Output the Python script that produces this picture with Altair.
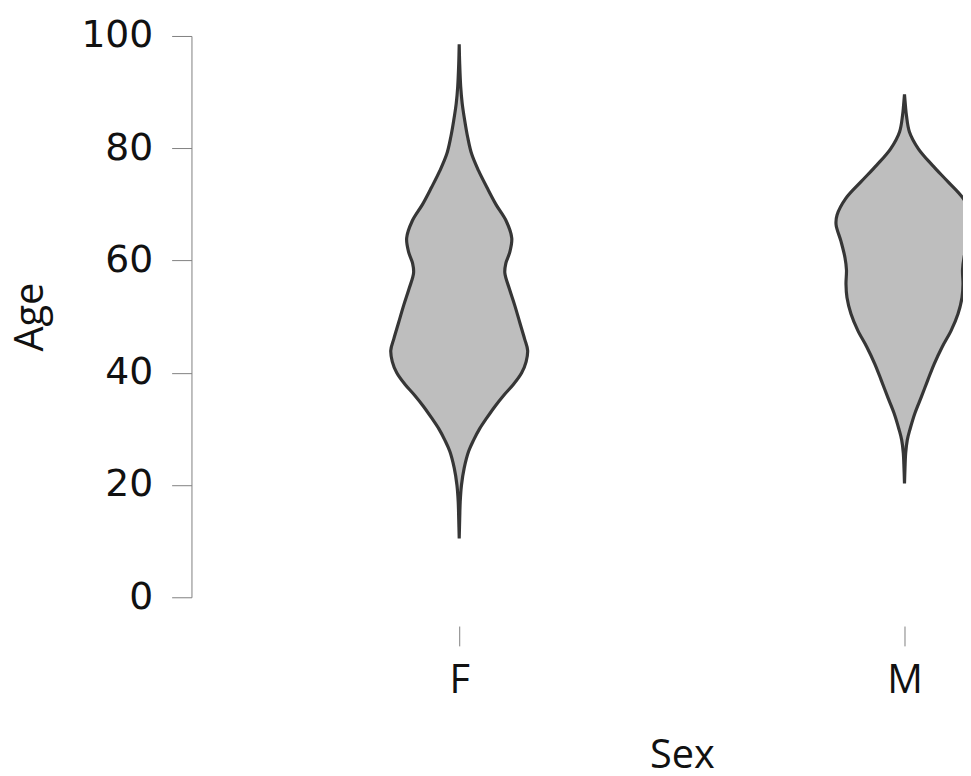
import altair as alt
import pandas as pd

# Violin outlines: age and relative half-width (density)
F_age = [98.5, 95, 91, 88, 85, 82, 79, 76, 73, 70, 67, 64, 61.5, 59.5, 57.8, 55, 52, 49, 46, 44,
         42, 40, 38, 36, 34, 32, 30, 28, 26, 23, 20, 17, 14, 10.5]
F_dens = [0, 0.005, 0.015, 0.03, 0.055, 0.085, 0.125, 0.195, 0.28, 0.37, 0.475, 0.53, 0.51, 0.47,
          0.46, 0.505, 0.56, 0.61, 0.66, 0.69, 0.675, 0.63, 0.55, 0.45, 0.36, 0.28, 0.205, 0.145,
          0.095, 0.05, 0.023, 0.01, 0.005, 0]

M_age = [89.6, 87.5, 85.8, 82.9, 79.9, 77, 74, 71.1, 68.1, 66.4, 63.4, 60.5, 58.3, 55.8, 53.4,
         50.5, 47.5, 44.6, 41.6, 38.7, 35.7, 32.8, 29.9, 28, 25.7, 23, 20.3]
M_dens = [0, 0.01, 0.02, 0.05, 0.14, 0.28, 0.44, 0.59, 0.68, 0.69, 0.64, 0.60, 0.585, 0.59, 0.58,
          0.54, 0.47, 0.38, 0.30, 0.235, 0.17, 0.105, 0.055, 0.028, 0.012, 0.005, 0]

sexes = ["F", "M"]
y_ticks = [0, 20, 40, 60, 80, 100]

rows = []
for a, d in zip(F_age, F_dens):
    rows.append({"Sex": "F", "Age": a, "dens": d})
for a, d in zip(M_age, M_dens):
    rows.append({"Sex": "M", "Age": a, "dens": d})
df = pd.DataFrame(rows)

K = 100 / 449.0  # density unit -> category units

chart = (
    alt.Chart(df)
    .transform_calculate(
        center="datum.Sex == 'F' ? 0 : 1",
    )
    .transform_calculate(
        lo=f"datum.center - datum.dens * {K}",
        hi=f"datum.center + datum.dens * {K}",
    )
    .mark_area(
        orient="horizontal",
        fill="#bebebe",
        stroke="#363636",
        strokeWidth=3.2,
        interpolate="catmull-rom",
        clip=True,
    )
    .encode(
        y=alt.Y(
            "Age:Q",
            scale=alt.Scale(domain=[0, 100], nice=False, zero=False),
            axis=alt.Axis(
                title="Age",
                values=y_ticks,
                grid=False,
                domainColor="#808080",
                tickColor="#808080",
                tickSize=20,
                labelPadding=19,
                labelFont="DejaVu Sans",
                labelFontSize=38,
                labelColor="#111111",
                titleFont="Open Sans",
                titleFontSize=40,
                titleFontWeight="normal",
                titleColor="#111111",
                titleBaseline="alphabetic",
                titleX=-150,
                titleY=283,
                titleAngle=270,
            ),
        ),
        x=alt.X(
            "lo:Q",
            scale=alt.Scale(domain=[-0.6013, 1.1314], nice=False, zero=False),
            axis=alt.Axis(
                title="Sex",
                values=[0, 1],
                labelExpr="datum.value == 0 ? 'F' : 'M'",
                grid=False,
                domain=False,
                offset=29,
                tickColor="#808080",
                tickSize=20,
                labelPadding=15,
                labelFont="Open Sans",
                labelFontSize=40,
                labelColor="#111111",
                titleFont="Open Sans",
                titleFontSize=40,
                titleFontWeight="normal",
                titleColor="#111111",
                titleBaseline="alphabetic",
                titleX=494.5,
                titleY=143,
            ),
        ),
        x2="hi:Q",
        detail="Sex:N",
    )
    .properties(
        width=778,
        height=566,
        autosize=alt.AutoSizeParams(type="none"),
        padding={"left": 185, "top": 25, "right": 0, "bottom": 177},
        background="white",
    )
    .configure_view(stroke=None)
)

chart.save("out.html", embed_options={"renderer": "svg", "actions": False})
